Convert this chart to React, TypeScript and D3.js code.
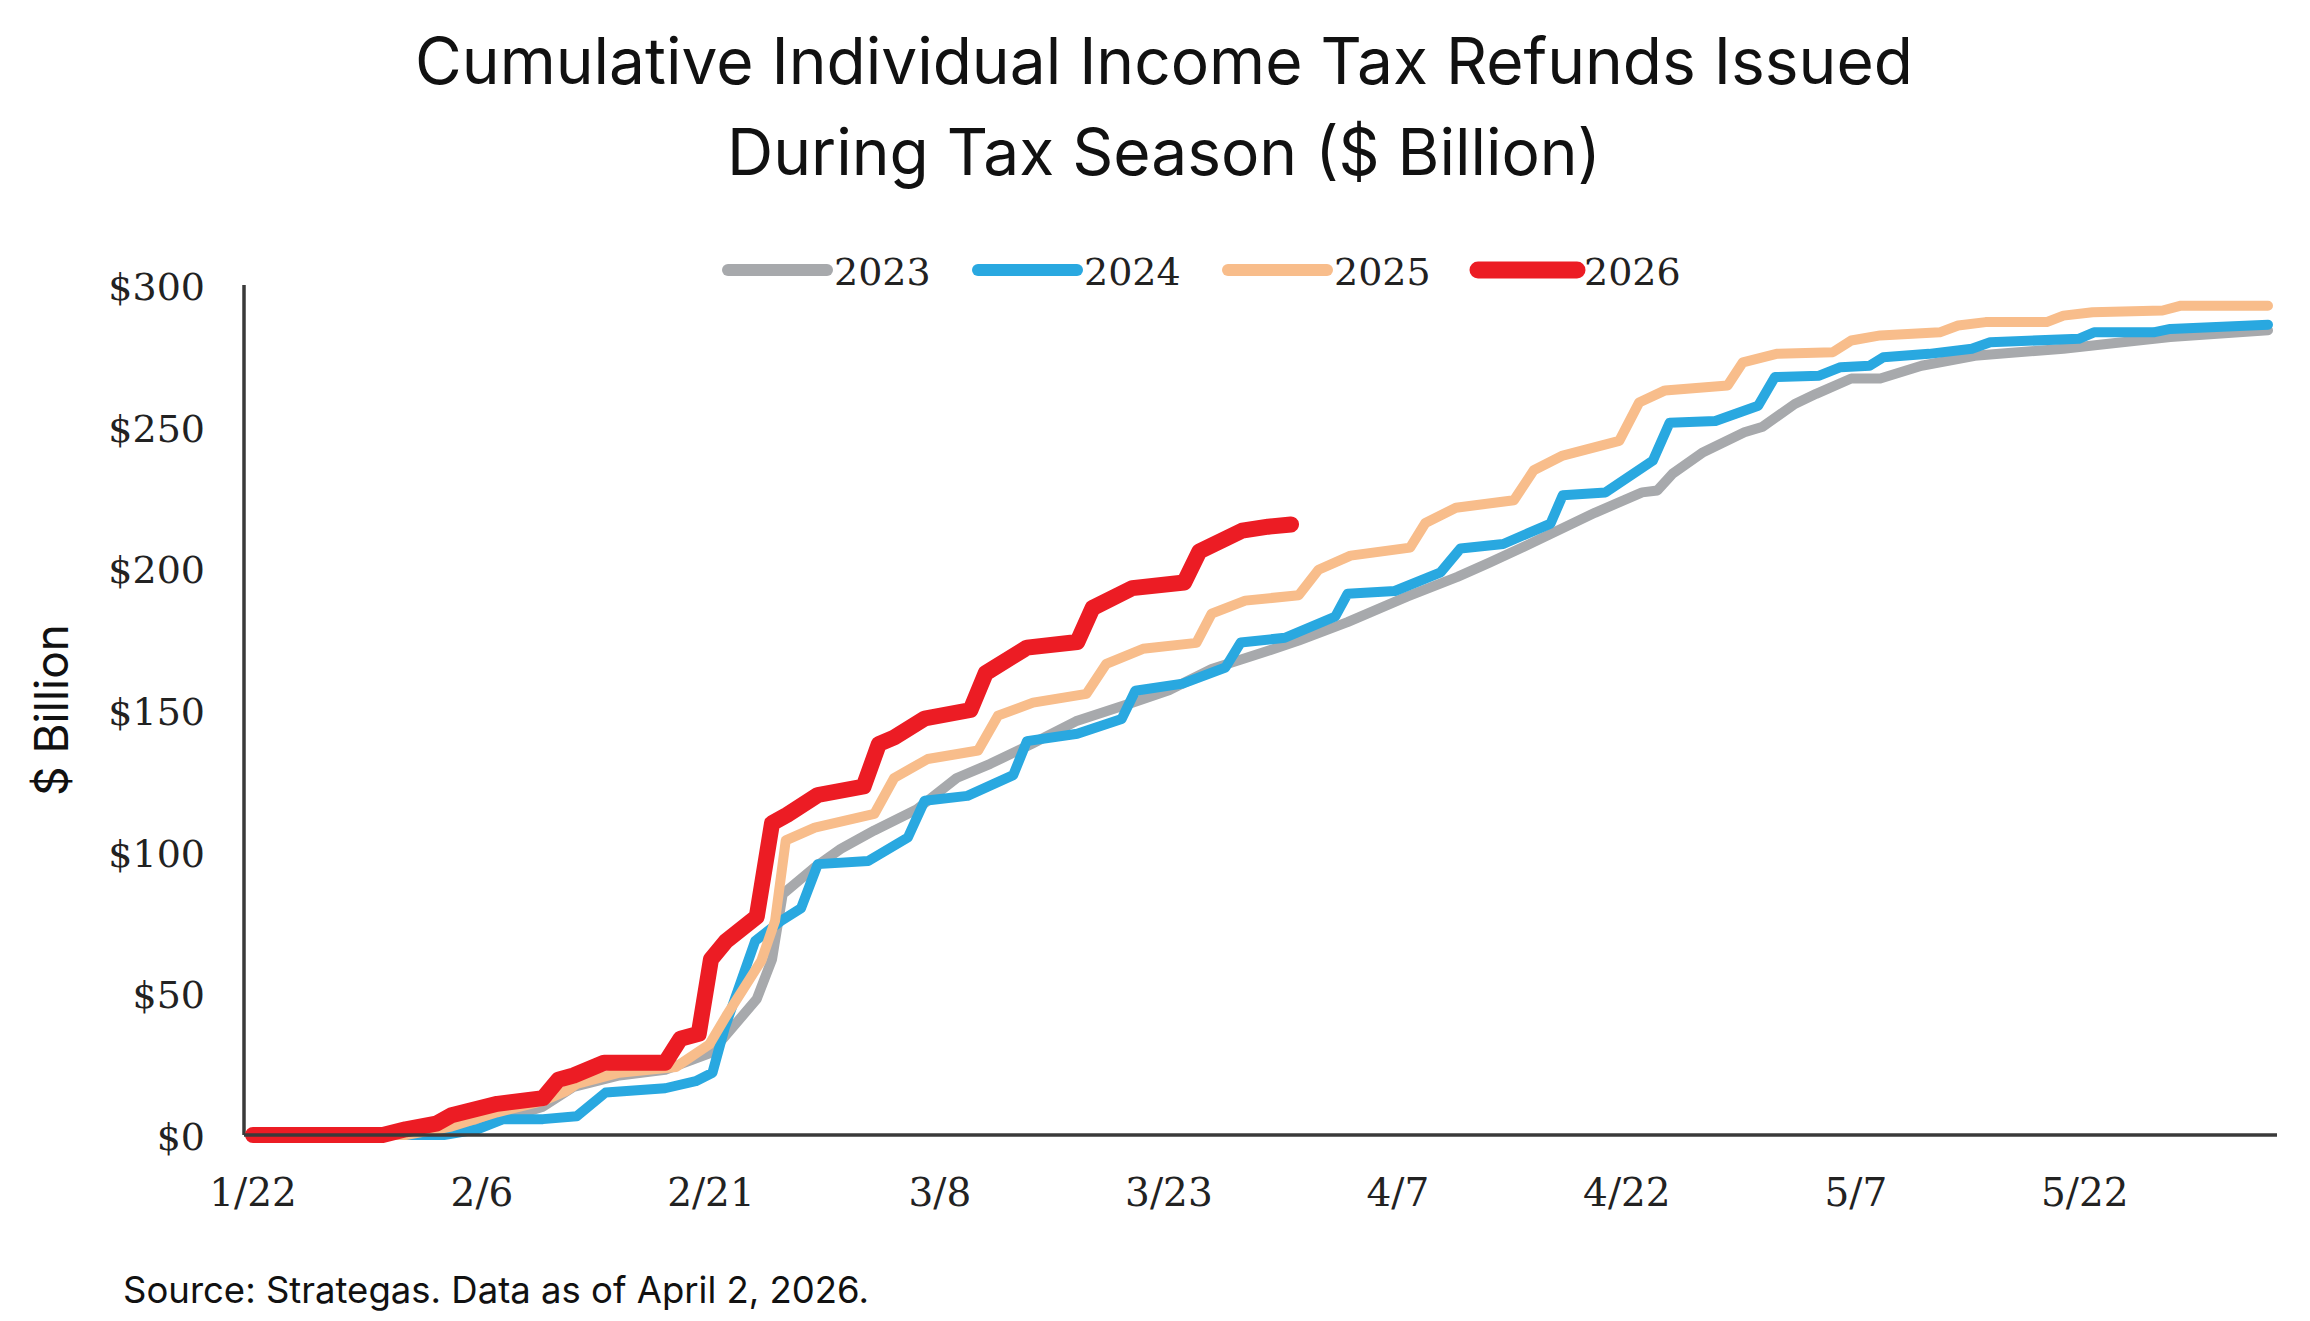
import React from "react";
import * as d3 from "d3";

const W = 2310;
const H = 1321;

const title1 = "Cumulative Individual Income Tax Refunds Issued";
const title2 = "During Tax Season ($ Billion)";
const yAxisTitle = "$ Billion";
const source = "Source: Strategas. Data as of April 2, 2026.";

const xTickDays = [0, 15, 30, 45, 60, 75, 90, 105, 120];
const xTickLabels = ["1/22", "2/6", "2/21", "3/8", "3/23", "4/7", "4/22", "5/7", "5/22"];
const yTickValues = [0, 50, 100, 150, 200, 250, 300];
const yTickLabels = ["$0", "$50", "$100", "$150", "$200", "$250", "$300"];

const days2023 = [0, 12, 14, 16, 19, 21, 24, 27, 30, 33, 34, 34.7, 36.8, 38.5, 40.7, 43.5, 46.1, 48.3, 51, 53.9, 57.6, 60, 62.8, 66, 68.5, 71.7, 75.6, 78.9, 81, 83.6, 87.9, 91, 92, 93, 95, 97.7, 98.9, 101, 102.4, 104.7, 106.6, 109.3, 112.8, 115, 118.6, 122, 125.6, 132];
const vals2023 = [0, 0, 2, 5, 10, 17, 21, 23, 29, 48, 62, 85, 94.5, 101, 107.5, 115, 126, 131, 138, 146, 152.6, 157, 164.5, 170, 174.5, 181, 190, 197, 202, 208.5, 219.6, 226.8, 227.5, 233.4, 241, 248, 250, 258, 261.6, 267, 267, 271.5, 275, 276, 277.5, 279.5, 281.6, 284];

const days2024 = [0, 12.5, 14.7, 16.4, 19, 21.2, 23.1, 27, 29, 30.1, 30.9, 32.9, 34.6, 35.9, 37, 40.3, 42.9, 44, 46.8, 49.8, 50.7, 54, 56.9, 57.8, 60.9, 63.7, 64.7, 67.6, 70.9, 71.7, 74.8, 77.8, 79.1, 81.9, 85, 85.8, 88.6, 91.7, 92.8, 95.8, 98.6, 99.7, 102.6, 104, 105.9, 106.8, 109.8, 112.6, 113.8, 119.6, 120.6, 124.5, 125.6, 132];
const vals2024 = [0, 0, 2, 5.6, 5.6, 6.6, 15, 16.5, 19, 22, 37.8, 68.5, 75.6, 80, 95.6, 96.7, 105, 118, 119.7, 127, 139, 141.6, 146.8, 156.8, 159.3, 165, 173.8, 175.5, 183, 191, 192, 198.6, 207, 208.6, 215.8, 225.8, 226.8, 238, 251.4, 252, 257.4, 267.5, 268, 271, 271.5, 274.5, 275.7, 277.5, 279.8, 281, 283.3, 283.3, 284.5, 286];

const days2025 = [0, 10, 13, 16, 19, 20.5, 21.2, 24, 27.7, 29.9, 31, 33.3, 34.2, 34.9, 36.8, 40.7, 42, 44.2, 47.5, 48.8, 51.1, 54.6, 55.9, 58.3, 61.8, 62.8, 65, 68.5, 69.8, 71.9, 75.8, 76.8, 78.8, 82.6, 83.9, 85.8, 89.5, 90.8, 92.5, 96.6, 97.6, 99.8, 103.5, 104.7, 106.6, 110.5, 111.7, 113.5, 117.5, 118.6, 120.5, 125.1, 126.3, 132];
const vals2025 = [0, 0, 3, 8, 12, 15.5, 18, 22, 24, 32, 42, 61.5, 75.6, 104, 108.5, 113.3, 126, 132.7, 135.7, 148, 152.6, 155.7, 166.3, 171.6, 173.7, 184, 188.6, 190.5, 199.5, 204.5, 207.3, 216, 221.4, 224, 234.6, 239.8, 245, 258.5, 262.8, 264.5, 272.7, 275.7, 276.3, 280.4, 282.2, 283.3, 285.7, 286.9, 286.9, 289.2, 290.4, 291, 292.7, 292.7];

const days2026 = [0, 8.5, 10, 12, 13, 16, 19, 20, 21, 23, 27, 28, 29.2, 30, 31, 33, 34, 35, 37, 40, 41, 42, 44, 47, 48, 50.7, 54, 55, 57.6, 61, 62, 64.8, 66.5, 68];
const vals2026 = [0, 0, 2, 4, 7, 11, 13, 19.5, 21, 25.5, 25.5, 34, 35.7, 62, 68.5, 77, 110, 113, 120, 123, 138, 140.3, 147, 150, 163, 172, 174, 186, 193, 195, 206, 213.3, 214.7, 215.5];

const seriesNames = ["2023", "2024", "2025", "2026"];
const seriesColors = ["#A7A9AC", "#29A8E0", "#F8BD8B", "#EC1C24"];
const seriesWidths = [10, 10, 10, 16];
const seriesDays = [days2023, days2024, days2025, days2026];
const seriesVals = [vals2023, vals2024, vals2025, vals2026];

const serif = "'DejaVu Serif', 'Liberation Serif', serif";
const sans = "Inter, 'Noto Sans', sans-serif";

export default function App() {
  const x = d3.scaleLinear().domain([0, 132]).range([253, 2268]);
  const y = d3.scaleLinear().domain([0, 300]).range([1135, 285]);
  const line = d3
    .line<[number, number]>()
    .x((d) => x(d[0]))
    .y((d) => y(d[1]));

  const axisLeft = 244;
  const axisRight = 2277;

  return (
    <svg
      width={W}
      height={H}
      viewBox={`0 0 ${W} ${H}`}
      style={{ position: "absolute", left: 0, top: 0, background: "#fff" }}
    >
      <rect x={0} y={0} width={W} height={H} fill="#fff" />
      <text x={1164} y={84} textAnchor="middle" fontFamily={sans} fontSize={64} fill="#111">
        {title1}
      </text>
      <text x={1164} y={175} textAnchor="middle" fontFamily={sans} fontSize={64} fill="#111">
        {title2}
      </text>

      {/* legend */}
      {seriesNames.map((name, i) => {
        const x0 = 724 + i * 250;
        return (
          <g key={name}>
            <line
              x1={x0 + 4}
              x2={x0 + 103}
              y1={270}
              y2={270}
              stroke={seriesColors[i]}
              strokeWidth={i === 3 ? 17 : 12}
              strokeLinecap="round"
            />
            <text
              x={x0 + 110}
              y={272}
              dominantBaseline="central"
              fontFamily={serif}
              fontSize={38}
              fill="#222"
            >
              {name}
            </text>
          </g>
        );
      })}

      {/* axes */}
      <line x1={axisLeft} x2={axisLeft} y1={y(300)} y2={y(0)} stroke="#3a3a3a" strokeWidth={3.5} />

      {yTickValues.map((v, i) => (
        <text
          key={v}
          x={205}
          y={y(v) + 2}
          textAnchor="end"
          dominantBaseline="central"
          fontFamily={serif}
          fontSize={38}
          fill="#222"
        >
          {yTickLabels[i]}
        </text>
      ))}

      {xTickDays.map((d, i) => (
        <text
          key={d}
          x={x(d)}
          y={1192}
          textAnchor="middle"
          dominantBaseline="central"
          fontFamily={serif}
          fontSize={39}
          fill="#222"
        >
          {xTickLabels[i]}
        </text>
      ))}

      <text
        transform={`translate(51,710) rotate(-90)`}
        textAnchor="middle"
        dominantBaseline="central"
        fontFamily={sans}
        fontSize={46}
        fill="#111"
      >
        {yAxisTitle}
      </text>

      {/* series */}
      {seriesNames.map((name, i) => {
        const pts: [number, number][] = seriesDays[i].map((d, j) => [d, seriesVals[i][j]]);
        return (
          <path
            key={name}
            d={line(pts) || ""}
            fill="none"
            stroke={seriesColors[i]}
            strokeWidth={seriesWidths[i]}
            strokeLinejoin="round"
            strokeLinecap="round"
          />
        );
      })}

      <line x1={axisLeft} x2={axisRight} y1={y(0)} y2={y(0)} stroke="#3a3a3a" strokeWidth={3.5} />

      <text x={123} y={1290} dominantBaseline="central" fontFamily={sans} fontSize={36.5} fill="#111">
        {source}
      </text>
    </svg>
  );
}
